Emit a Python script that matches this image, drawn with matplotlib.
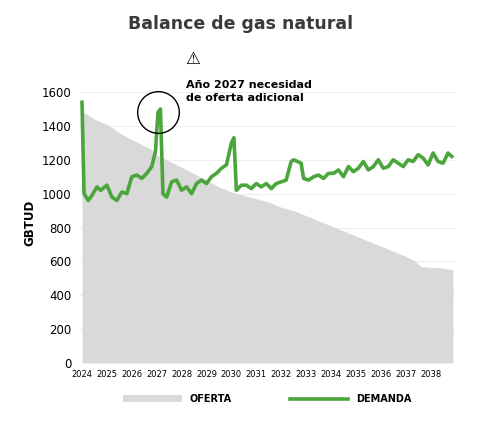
import numpy as np
import matplotlib.pyplot as plt

# quarterly time axis (year fractions)
t_dem = [2024.0, 2024.08, 2024.25, 2024.4, 2024.6, 2024.75, 2025.0, 2025.2, 2025.4, 2025.6, 2025.8,
         2026.0, 2026.2, 2026.4, 2026.6, 2026.8, 2026.95, 2027.05, 2027.15, 2027.25, 2027.4, 2027.6,
         2027.8, 2028.0, 2028.2, 2028.4, 2028.6, 2028.8, 2029.0, 2029.2, 2029.4, 2029.6, 2029.8,
         2030.0, 2030.1, 2030.2, 2030.4, 2030.6, 2030.8, 2031.0, 2031.2, 2031.4, 2031.6, 2031.8,
         2032.0, 2032.2, 2032.4, 2032.5, 2032.8, 2032.9, 2033.1, 2033.3, 2033.5, 2033.7, 2033.9,
         2034.1, 2034.3, 2034.5, 2034.7, 2034.9, 2035.1, 2035.3, 2035.5, 2035.7, 2035.9,
         2036.1, 2036.3, 2036.5, 2036.7, 2036.9, 2037.1, 2037.3, 2037.5, 2037.7, 2037.9,
         2038.1, 2038.3, 2038.5, 2038.7, 2038.85]
demanda = [1540, 1000, 960, 990, 1040, 1020, 1050, 980, 960, 1010, 1000,
           1100, 1110, 1090, 1120, 1160, 1250, 1480, 1500, 1000, 980, 1070,
           1080, 1020, 1040, 1000, 1060, 1080, 1060, 1100, 1120, 1150, 1170,
           1300, 1330, 1020, 1050, 1050, 1030, 1060, 1040, 1060, 1030, 1060,
           1070, 1080, 1190, 1200, 1180, 1090, 1080, 1100, 1110, 1090, 1120,
           1120, 1140, 1100, 1160, 1130, 1150, 1190, 1140, 1160, 1200,
           1150, 1160, 1200, 1180, 1160, 1200, 1190, 1230, 1210, 1170,
           1240, 1190, 1180, 1240, 1220]

t_ofe = [2024.0, 2024.2, 2024.5, 2024.8, 2025.0, 2025.3, 2025.6, 2026.0, 2026.4, 2026.8,
         2027.0, 2027.4, 2027.8, 2028.2, 2028.6, 2029.0, 2029.5, 2030.0, 2030.5, 2031.0,
         2031.5, 2032.0, 2032.5, 2033.0, 2033.5, 2034.0, 2034.5, 2035.0, 2035.5, 2036.0,
         2036.5, 2037.0, 2037.4, 2037.6, 2038.0, 2038.5, 2038.9]
oferta = [1480, 1470, 1440, 1420, 1410, 1380, 1350, 1320, 1290, 1260,
          1230, 1200, 1170, 1140, 1110, 1080, 1040, 1010, 990, 970,
          950, 920, 900, 870, 840, 810, 780, 750, 720, 690,
          660, 630, 600, 570, 565, 560, 550]

years = list(range(2024, 2039))

fig = plt.figure(figsize=(4.82, 4.40), dpi=100)
ax = fig.add_axes([0.165, 0.175, 0.78, 0.635])
ax.fill_between(t_ofe, oferta, color="#d9d9d9", linewidth=0, label="OFERTA")
ax.plot(t_dem, demanda, color="#4aa63a", lw=2.6, label="DEMANDA")
ax.set_xlim(2023.9, 2039.0)
ax.set_ylim(0, 1650)
ax.set_yticks(range(0, 1601, 200))
ax.set_xticks(years)
ax.set_xticklabels([str(y) for y in years], fontsize=6)
ax.tick_params(axis="y", labelsize=8.5, length=0, pad=6)
ax.tick_params(axis="x", length=0, pad=5)
ax.grid(axis="y", color="#eeeeee", lw=0.8)
ax.set_axisbelow(True)
for s in ax.spines.values():
    s.set_visible(False)
ax.set_ylabel("GBTUD", fontsize=8.5, fontweight="bold")

# annotation circle + warning
ax.plot([2027.05], [1480], marker="o", markersize=30, markerfacecolor="none",
        markeredgecolor="black", markeredgewidth=1)
fig.text(0.385, 0.855, "⚠", fontsize=12)
fig.text(0.385, 0.77, "Año 2027 necesidad\nde oferta adicional", fontsize=8,
         fontweight="bold", linespacing=1.4)
fig.suptitle("Balance de gas natural", y=0.965, fontsize=12.5, fontweight="bold", color="#3a3a3a")

ax.legend(loc="upper center", bbox_to_anchor=(0.5, -0.08), ncol=2, frameon=False,
          prop={"weight": "bold", "size": 7}, handlelength=6, columnspacing=6)
fig.savefig("out.png", dpi=100)
